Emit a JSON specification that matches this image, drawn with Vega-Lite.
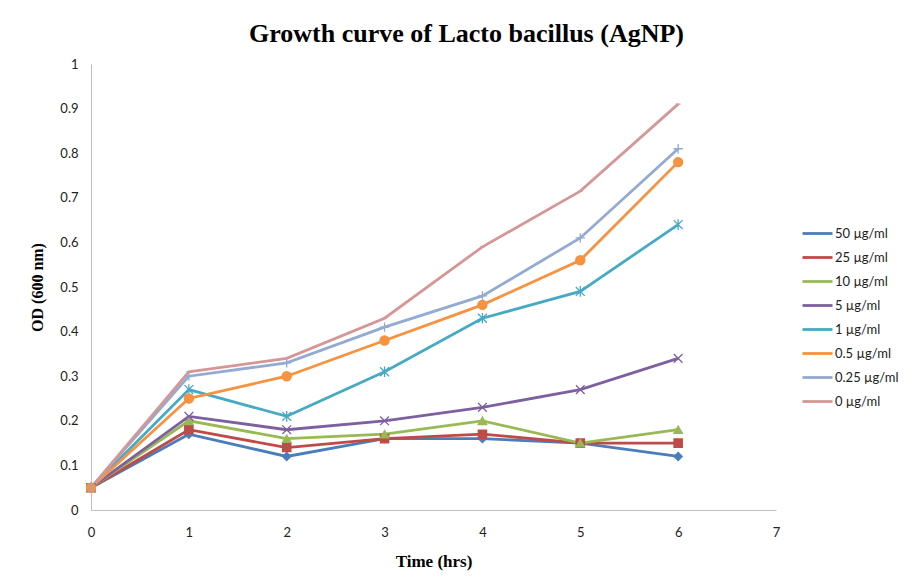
{
  "$schema": "https://vega.github.io/schema/vega-lite/v6.json",
  "width": 685,
  "height": 446,
  "autosize": "none",
  "padding": {"left": 91, "top": 64, "right": 129, "bottom": 73},
  "background": "white",
  "title": {
    "text": "Growth curve of Lacto bacillus (AgNP)",
    "font": "Liberation Serif",
    "fontSize": 26,
    "fontWeight": "bold",
    "color": "#000000",
    "anchor": "middle",
    "dx": 33,
    "offset": 11
  },
  "data": {
    "values": [
      {"conc": "50 µg/ml", "time": 0, "od": 0.05}, {"conc": "50 µg/ml", "time": 1, "od": 0.17}, {"conc": "50 µg/ml", "time": 2, "od": 0.12}, {"conc": "50 µg/ml", "time": 3, "od": 0.16}, {"conc": "50 µg/ml", "time": 4, "od": 0.16}, {"conc": "50 µg/ml", "time": 5, "od": 0.15}, {"conc": "50 µg/ml", "time": 6, "od": 0.12},
      {"conc": "25 µg/ml", "time": 0, "od": 0.05}, {"conc": "25 µg/ml", "time": 1, "od": 0.18}, {"conc": "25 µg/ml", "time": 2, "od": 0.14}, {"conc": "25 µg/ml", "time": 3, "od": 0.16}, {"conc": "25 µg/ml", "time": 4, "od": 0.17}, {"conc": "25 µg/ml", "time": 5, "od": 0.15}, {"conc": "25 µg/ml", "time": 6, "od": 0.15},
      {"conc": "10 µg/ml", "time": 0, "od": 0.05}, {"conc": "10 µg/ml", "time": 1, "od": 0.20}, {"conc": "10 µg/ml", "time": 2, "od": 0.16}, {"conc": "10 µg/ml", "time": 3, "od": 0.17}, {"conc": "10 µg/ml", "time": 4, "od": 0.20}, {"conc": "10 µg/ml", "time": 5, "od": 0.15}, {"conc": "10 µg/ml", "time": 6, "od": 0.18},
      {"conc": "5 µg/ml", "time": 0, "od": 0.05}, {"conc": "5 µg/ml", "time": 1, "od": 0.21}, {"conc": "5 µg/ml", "time": 2, "od": 0.18}, {"conc": "5 µg/ml", "time": 3, "od": 0.20}, {"conc": "5 µg/ml", "time": 4, "od": 0.23}, {"conc": "5 µg/ml", "time": 5, "od": 0.27}, {"conc": "5 µg/ml", "time": 6, "od": 0.34},
      {"conc": "1 µg/ml", "time": 0, "od": 0.05}, {"conc": "1 µg/ml", "time": 1, "od": 0.27}, {"conc": "1 µg/ml", "time": 2, "od": 0.21}, {"conc": "1 µg/ml", "time": 3, "od": 0.31}, {"conc": "1 µg/ml", "time": 4, "od": 0.43}, {"conc": "1 µg/ml", "time": 5, "od": 0.49}, {"conc": "1 µg/ml", "time": 6, "od": 0.64},
      {"conc": "0.5 µg/ml", "time": 0, "od": 0.05}, {"conc": "0.5 µg/ml", "time": 1, "od": 0.25}, {"conc": "0.5 µg/ml", "time": 2, "od": 0.30}, {"conc": "0.5 µg/ml", "time": 3, "od": 0.38}, {"conc": "0.5 µg/ml", "time": 4, "od": 0.46}, {"conc": "0.5 µg/ml", "time": 5, "od": 0.56}, {"conc": "0.5 µg/ml", "time": 6, "od": 0.78},
      {"conc": "0.25 µg/ml", "time": 0, "od": 0.05}, {"conc": "0.25 µg/ml", "time": 1, "od": 0.30}, {"conc": "0.25 µg/ml", "time": 2, "od": 0.33}, {"conc": "0.25 µg/ml", "time": 3, "od": 0.41}, {"conc": "0.25 µg/ml", "time": 4, "od": 0.48}, {"conc": "0.25 µg/ml", "time": 5, "od": 0.61}, {"conc": "0.25 µg/ml", "time": 6, "od": 0.81},
      {"conc": "0 µg/ml", "time": 0, "od": 0.05}, {"conc": "0 µg/ml", "time": 1, "od": 0.31}, {"conc": "0 µg/ml", "time": 2, "od": 0.34}, {"conc": "0 µg/ml", "time": 3, "od": 0.43}, {"conc": "0 µg/ml", "time": 4, "od": 0.59}, {"conc": "0 µg/ml", "time": 5, "od": 0.715}, {"conc": "0 µg/ml", "time": 6, "od": 0.91}
    ]
  },
  "config": {
    "view": {"stroke": null},
    "axis": {
      "domainColor": "#BFBFBF",
      "domainWidth": 1,
      "ticks": false,
      "grid": false,
      "labelFont": "Lato",
      "labelFontSize": 13,
      "labelColor": "#222222",
      "labelOverlap": false,
      "titleFont": "Liberation Serif",
      "titleFontSize": 17,
      "titleFontWeight": "bold",
      "titleColor": "#000000"
    }
  },
  "encoding": {
    "x": {
      "field": "time", "type": "quantitative",
      "scale": {"domain": [0, 7], "nice": false, "zero": false},
      "axis": {"title": "Time (hrs)", "values": [0,1,2,3,4,5,6,7], "format": "~g", "labelPadding": 16, "titlePadding": 14, "labelFlush": false}
    },
    "y": {
      "field": "od", "type": "quantitative",
      "scale": {"domain": [0, 1], "nice": false},
      "axis": {"title": "OD (600 nm)", "titleFontSize": 16, "values": [0,0.1,0.2,0.3,0.4,0.5,0.6,0.7,0.8,0.9,1], "format": "~g", "labelPadding": 13, "titlePadding": 14, "labelFlush": false}
    },
    "color": {
      "field": "conc", "type": "nominal",
      "sort": ["50 µg/ml", "25 µg/ml", "10 µg/ml", "5 µg/ml", "1 µg/ml", "0.5 µg/ml", "0.25 µg/ml", "0 µg/ml"],
      "scale": {
        "domain": ["50 µg/ml", "25 µg/ml", "10 µg/ml", "5 µg/ml", "1 µg/ml", "0.5 µg/ml", "0.25 µg/ml", "0 µg/ml"],
        "range": ["#4A7EBB", "#BE4B48", "#98B954", "#7D60A0", "#46AAC5", "#F69240", "#93AAD2", "#D49796"]
      },
      "legend": null
    }
  },
  "layer": [
    {
      "mark": {"type": "line", "strokeWidth": 2.8},
      "encoding": {
        "color": {
          "field": "conc", "type": "nominal",
          "sort": ["50 µg/ml", "25 µg/ml", "10 µg/ml", "5 µg/ml", "1 µg/ml", "0.5 µg/ml", "0.25 µg/ml", "0 µg/ml"],
          "legend": {
            "title": null,
            "orient": "none",
            "legendX": 710,
            "legendY": 153,
            "symbolType": "stroke",
            "symbolSize": 900,
            "symbolStrokeWidth": 2.8,
            "labelFont": "Lato",
            "labelFontSize": 13,
            "labelColor": "#222222",
            "rowPadding": -6,
            "labelOffset": 1
          }
        }
      }
    },
    {
      "mark": {"type": "point", "filled": true, "opacity": 1, "strokeWidth": 1.3},
      "encoding": {
        "color": {
          "field": "conc", "type": "nominal",
          "sort": ["50 µg/ml", "25 µg/ml", "10 µg/ml", "5 µg/ml", "1 µg/ml", "0.5 µg/ml", "0.25 µg/ml", "0 µg/ml"],
          "legend": null
        },
        "stroke": {
          "field": "conc", "type": "nominal",
          "scale": {
            "domain": ["50 µg/ml", "25 µg/ml", "10 µg/ml", "5 µg/ml", "1 µg/ml", "0.5 µg/ml", "0.25 µg/ml", "0 µg/ml"],
            "range": ["#4A7EBB", "#BE4B48", "#98B954", "#7D60A0", "#46AAC5", "#F69240", "#93AAD2", "#D49796"]
          },
          "legend": null
        },
        "shape": {
          "field": "conc", "type": "nominal",
          "scale": {
            "domain": ["50 µg/ml", "25 µg/ml", "10 µg/ml", "5 µg/ml", "1 µg/ml", "0.5 µg/ml", "0.25 µg/ml", "0 µg/ml"],
            "range": ["diamond", "square", "triangle-up", "M-1,-1L1,1M-1,1L1,-1", "M-1,-1L1,1M-1,1L1,-1M0,-1.2L0,1.2", "circle", "M-1,0L1,0M0,-1L0,1", "M-0.5,0L0.5,0"]
          },
          "legend": null
        },
        "size": {
          "field": "conc", "type": "nominal",
          "scale": {
            "domain": ["50 µg/ml", "25 µg/ml", "10 µg/ml", "5 µg/ml", "1 µg/ml", "0.5 µg/ml", "0.25 µg/ml", "0 µg/ml"],
            "range": [65, 90, 80, 90, 90, 120, 90, 40]
          },
          "legend": null
        }
      }
    }
  ],
  "resolve": {"legend": {"color": "independent"}}
}
